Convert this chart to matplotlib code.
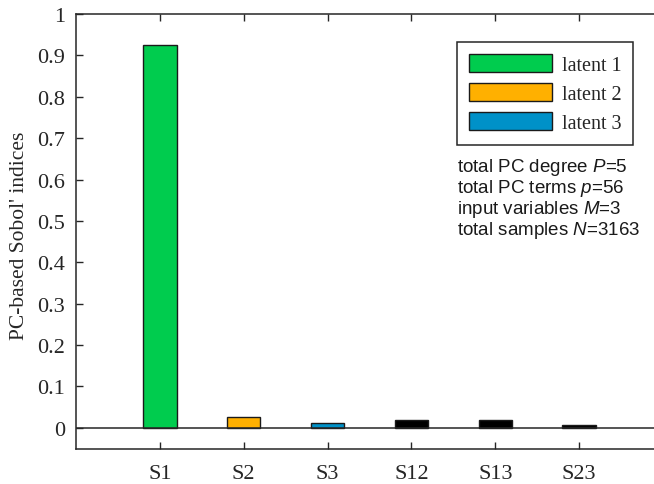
import numpy as np
import matplotlib
matplotlib.use("Agg")
import matplotlib.pyplot as plt

# ── Data ──────────────────────────────────────────────────────────────────────
labels = ["S1", "S2", "S3", "S12", "S13", "S23"]
values = [0.925, 0.026, 0.011, 0.018, 0.018, 0.0065]
bar_colors = ["#00cc4e", "#ffb000", "#0091c8", "#000000", "#000000", "#000000"]
legend_labels = ["latent 1", "latent 2", "latent 3"]
info_lines = [
    r"total PC degree $P$=5",
    r"total PC terms $p$=56",
    r"input variables $M$=3",
    r"total samples $N$=3163",
]
yticks = [0, 0.1, 0.2, 0.3, 0.4, 0.5, 0.6, 0.7, 0.8, 0.9, 1]
ytick_labels = ["0", "0.1", "0.2", "0.3", "0.4", "0.5", "0.6", "0.7", "0.8", "0.9", "1"]

plt.rcParams["font.family"] = "Liberation Serif"
plt.rcParams["mathtext.fontset"] = "custom"
plt.rcParams["mathtext.rm"] = "Liberation Sans"
plt.rcParams["mathtext.it"] = "Liberation Sans:italic"

W, H = 654, 485
fig = plt.figure(figsize=(W / 100, H / 100), dpi=100)
# axes extends past the right edge (the original is cropped)
ax = fig.add_axes([76 / W, 1 - 449.5 / H, (663 - 76) / W, (449.5 - 15) / H])

x = np.arange(1, len(labels) + 1)
bars = ax.bar(x, values, width=0.4, color=bar_colors, edgecolor="#1a1a1a",
              linewidth=1.0, zorder=2)
ax.axhline(0, color="#262626", linewidth=1.1, zorder=3)

ax.set_xlim(0, 7)
ax.set_ylim(-0.05, 1)
ax.set_xticks(x)
ax.set_xticklabels(labels)
ax.set_yticks(yticks)
ax.set_yticklabels(ytick_labels)
ax.tick_params(axis="both", direction="in", length=5, width=1,
               color="#262626", labelsize=16, labelcolor="#262626",
               top=True, right=True)
ax.tick_params(axis="y", pad=8)
ax.tick_params(axis="x", pad=11)
for s in ax.spines.values():
    s.set_color("#262626")
    s.set_linewidth(1.1)

fig.text(20 / W, 1 - 236 / H, "PC-based Sobol' indices", rotation=90,
         ha="center", va="center", fontsize=15.5, color="#262626")

leg = ax.legend(bars[:3], legend_labels, loc="upper left",
                bbox_to_anchor=(457 / W, 1 - 43 / H), bbox_transform=fig.transFigure,
                borderaxespad=0, fancybox=False, edgecolor="#262626",
                fontsize=14.5, handlelength=4.1, handleheight=1.0,
                handletextpad=0.5, labelspacing=0.4, borderpad=0.6,
                framealpha=1)
leg.get_frame().set_linewidth(1.1)
for t in leg.get_texts():
    t.set_color("#262626")

for i, line in enumerate(info_lines):
    fig.text(457 / W, 1 - (168 + 21 * i) / H, line, ha="left", va="center",
             fontsize=13.5, family="Liberation Sans", color="#1a1a1a")

fig.savefig("out.png", dpi=100)
